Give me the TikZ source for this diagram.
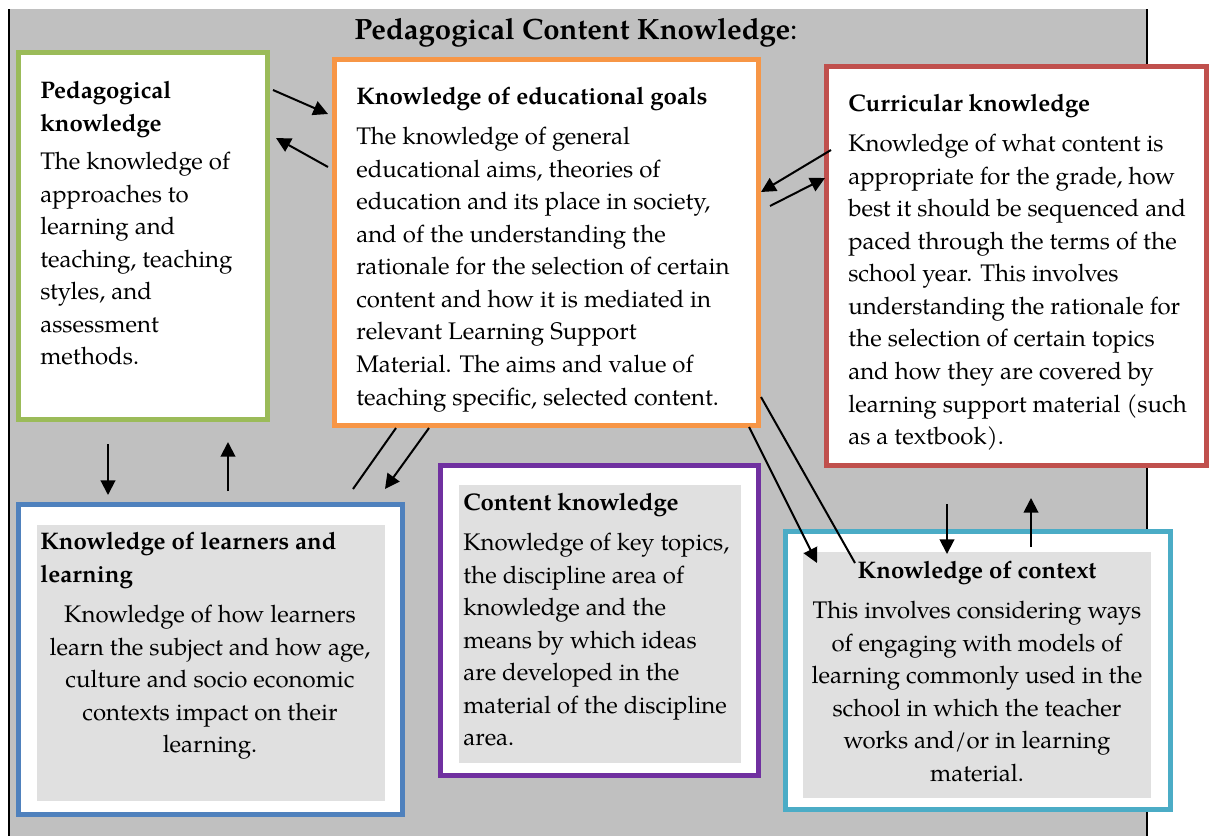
\documentclass[tikz,border=0pt]{standalone}
\usepackage{fontspec}
\setmainfont{TeX Gyre Pagella}
\usetikzlibrary{arrows.meta}
\definecolor{bgGray}{HTML}{C0C0C0}
\definecolor{inGray}{HTML}{E0E0E0}
\definecolor{cGreen}{HTML}{9BBB59}
\definecolor{cOrange}{HTML}{F79646}
\definecolor{cRed}{HTML}{C0504D}
\definecolor{cBlue}{HTML}{4F81BD}
\definecolor{cPurple}{HTML}{7030A0}
\definecolor{cCyan}{HTML}{4BACC6}
\begin{document}
\begin{tikzpicture}[x=0.75pt,y=-0.75pt,
  box/.style={draw, line width=3.75pt, fill=white, anchor=north west, inner sep=0pt, outer sep=0pt},
  inbox/.style={fill=inGray, anchor=north west, inner sep=0pt, outer sep=0pt},
  ttl/.style={font=\fontsize{18pt}{24.4pt}\selectfont\bfseries, inner sep=0pt, align=left, anchor=north west},
  bdy/.style={font=\fontsize{18pt}{24.4pt}\selectfont, inner sep=0pt, align=left, anchor=north west},
  arr/.style={line width=1.5pt, -{Triangle[length=11pt,width=11pt]}},
  ln/.style={line width=1.5pt}]
\useasboundingbox (0,0) rectangle (1209,836);
% background
\fill[bgGray] (9,9) rectangle (1147,836);
\coordinate (lt) at (9,9); \coordinate (lb) at (9,836);
\coordinate (rt) at (1147,9); \coordinate (rb) at (1147,836);
\draw[line width=1.6pt] (lt) -- (lb);
\draw[line width=1.6pt] (rt) -- (rb);
% title
\node[font=\fontsize{22pt}{26pt}\selectfont, inner sep=0pt, anchor=north] (title) at (576,18) {\textbf{Pedagogical Content Knowledge}:};
% boxes
\node[box, draw=cGreen, minimum width=186.75pt, minimum height=275.25pt] (ped) at (18.5,52.5) {};
\node[box, draw=cOrange, minimum width=318pt, minimum height=274.5pt] (goal) at (334.5,59.5) {};
\node[box, draw=cRed, minimum width=285pt, minimum height=299.25pt] (cur) at (826.5,66.5) {};
\node[box, draw=cBlue, minimum width=288pt, minimum height=232.5pt] (lrn) at (18.5,504.5) {};
\node[inbox, minimum width=261pt, minimum height=207pt] (lrnIn) at (37,525) {};
\node[box, draw=cPurple, minimum width=238.5pt, minimum height=232.5pt] (con) at (440.5,465.5) {};
\node[inbox, minimum width=211.5pt, minimum height=208.5pt] (conIn) at (459,485) {};
\node[box, draw=cCyan, minimum width=288.75pt, minimum height=208.5pt] (ctx) at (785.5,531.5) {};
\node[inbox, minimum width=261pt, minimum height=184.5pt] (ctxIn) at (803,552) {};
% texts
\node[ttl] (pedT) at (40,81) {Pedagogical\\knowledge};
\node[bdy] (pedB) at (40,152) {The knowledge of\\approaches to\\learning and\\teaching, teaching\\styles, and\\assessment\\methods.};
\node[ttl] (goalT) at (356,87) {Knowledge of educational goals};
\node[bdy] (goalB) at (356,127) {The knowledge of general\\educational aims, theories of\\education and its place in society,\\and of the understanding the\\rationale for the selection of certain\\content and how it is mediated in\\relevant Learning Support\\Material. The aims and value of\\teaching specific, selected content.};
\node[ttl] (curT) at (848,94) {Curricular knowledge};
\node[bdy] (curB) at (848,134) {Knowledge of what content is\\appropriate for the grade, how\\best it should be sequenced and\\paced through the terms of the\\school year. This involves\\understanding the rationale for\\the selection of certain topics\\and how they are covered by\\learning support material (such\\as a textbook).};
\node[ttl] (lrnT) at (40,532) {Knowledge of learners and\\learning};
\node[bdy, align=center, anchor=north] (lrnB) at (210,605) {Knowledge of how learners\\learn the subject and how age,\\culture and socio economic\\contexts impact on their\\learning.};
\node[ttl] (conT) at (463,493) {Content knowledge};
\node[bdy] (conB) at (463,533) {Knowledge of key topics,\\the discipline area of\\knowledge and the\\means by which ideas\\are developed in the\\material of the discipline\\area.};
\node[ttl, anchor=north] (ctxT) at (977,561) {Knowledge of context};
\node[bdy, align=center, anchor=north] (ctxB) at (977,601) {This involves considering ways\\of engaging with models of\\learning commonly used in the\\school in which the teacher\\works and/or in learning\\material.};
% connector ends
\coordinate (a1s) at (273,90);  \coordinate (a1e) at (328,114);
\coordinate (a2s) at (328,167); \coordinate (a2e) at (276,138);
\coordinate (a3s) at (831,150); \coordinate (a3e) at (761,192);
\coordinate (a4s) at (770,206); \coordinate (a4e) at (825,178);
\coordinate (a5s) at (108,444); \coordinate (a5e) at (108,495);
\coordinate (a6s) at (228,491); \coordinate (a6e) at (228,442);
\coordinate (a7s) at (353,489); \coordinate (a7e) at (396,428);
\coordinate (a8s) at (429,428); \coordinate (a8e) at (385,489);
\coordinate (a9s) at (749,427); \coordinate (a9e) at (817,563);
\coordinate (a10s) at (855,563); \coordinate (a10e) at (761,397);
\coordinate (a11s) at (947,504); \coordinate (a11e) at (947,554);
\coordinate (a12s) at (1031,547); \coordinate (a12e) at (1031,498);
\draw[arr] (a1s) -- (a1e);
\draw[arr] (a2s) -- (a2e);
\draw[arr] (a3s) -- (a3e);
\draw[arr] (a4s) -- (a4e);
\draw[arr] (a5s) -- (a5e);
\draw[arr] (a6s) -- (a6e);
\draw[ln] (a7s) -- (a7e);
\draw[arr] (a8s) -- (a8e);
\draw[arr] (a9s) -- (a9e);
\draw[ln] (a10s) -- (a10e);
\draw[arr] (a11s) -- (a11e);
\draw[arr] (a12s) -- (a12e);
\end{tikzpicture}
\end{document}
